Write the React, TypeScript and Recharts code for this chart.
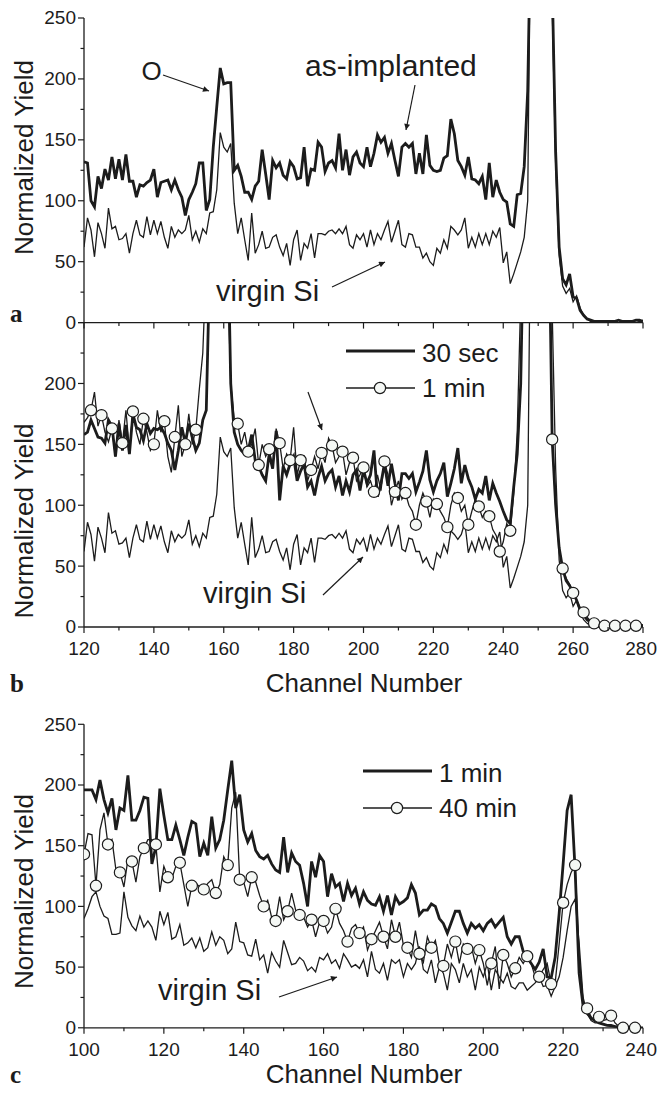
import React from 'react';
import { LineChart, Line, XAxis, YAxis, Label, Legend } from 'recharts';

const FONT = '"Liberation Sans", Arial, Helvetica, sans-serif';
const SERIF = '"Liberation Serif", "Times New Roman", serif';
const INK = '#1c1c1c';
const MARK_FILL = '#f5f8f5';

// channels (x categories)
const channelsAB = Array.from({ length: 161 }, (_, i) => 120 + i);
const channelsC = Array.from({ length: 141 }, (_, i) => 100 + i);

// panels a and b, channel 120..280
const virginAB = [
  62, 86, 76, 54, 82, 73, 61, 94, 77, 79,
  68, 69, 73, 57, 73, 84, 72, 70, 87, 72,
  84, 73, 83, 70, 61, 79, 70, 76, 73, 76,
  88, 68, 75, 66, 77, 73, 90, 91, 109, 156,
  144, 140, 147, 98, 73, 86, 68, 51, 90, 57,
  64, 75, 61, 62, 70, 72, 62, 55, 65, 47,
  68, 76, 51, 65, 61, 73, 53, 73, 73, 72,
  75, 76, 73, 77, 73, 79, 64, 61, 72, 68,
  73, 62, 76, 64, 73, 68, 76, 83, 66, 75,
  84, 64, 62, 73, 72, 62, 62, 53, 57, 50,
  47, 61, 57, 68, 61, 79, 76, 72, 76, 86,
  61, 70, 62, 73, 64, 73, 64, 75, 70, 78,
  49, 58, 32, 40, 49, 58, 70, 100, 400, 700,
  800, 700, 500, 400, 260, 130, 55, 30, 24, 28,
  17, 22, 12, 6, 3, 1, 1, 0, 1, 0,
  0, 1, 0, 0, 1, 0, 0, 1, 0, 1, 2,
];

const asImplanted = [
  132, 131, 100, 95, 120, 110, 126, 117, 136, 118,
  134, 117, 138, 116, 116, 103, 113, 112, 115, 117,
  126, 103, 115, 116, 117, 109, 117, 109, 103, 88,
  101, 107, 114, 131, 131, 92, 101, 144, 177, 209,
  196, 197, 197, 125, 129, 120, 107, 107, 101, 112,
  116, 142, 122, 101, 133, 127, 131, 121, 118, 132,
  128, 118, 119, 144, 112, 126, 125, 148, 144, 124,
  131, 133, 127, 155, 125, 142, 121, 136, 140, 131,
  128, 144, 128, 139, 154, 148, 152, 139, 147, 133,
  120, 144, 147, 144, 147, 122, 139, 122, 154, 129,
  125, 124, 125, 135, 137, 167, 155, 133, 128, 121,
  136, 118, 117, 114, 120, 101, 131, 103, 117, 107,
  101, 99, 81, 79, 105, 106, 128, 190, 350, 600,
  800, 800, 650, 500, 280, 140, 62, 36, 31, 40,
  21, 20, 10, 6, 3, 2, 1, 1, 1, 1,
  1, 1, 1, 2, 1, 1, 1, 1, 2, 2, 1,
];

const sec30 = [
  158, 160, 170, 163, 156, 155, 151, 170, 165, 140,
  167, 145, 166, 142, 175, 164, 162, 153, 167, 159,
  163, 162, 164, 159, 151, 145, 129, 145, 164, 151,
  167, 156, 145, 151, 170, 178, 300, 600, 750, 750,
  600, 350, 200, 160, 150, 145, 142, 145, 158, 137,
  132, 125, 120, 142, 130, 161, 104, 132, 125, 134,
  140, 120, 128, 134, 115, 120, 108, 123, 132, 120,
  126, 129, 115, 124, 108, 120, 111, 125, 129, 112,
  129, 118, 125, 145, 107, 118, 134, 116, 134, 118,
  104, 126, 126, 122, 126, 111, 119, 128, 145, 121,
  111, 120, 126, 135, 107, 118, 130, 147, 118, 133,
  122, 115, 105, 113, 110, 124, 104, 118, 110, 103,
  95, 88, 85, 115, 142, 200, 350, 600, 800, 850,
  850, 750, 550, 350, 154, 100, 65, 48, 38, 34,
  28, 22, 14, 10, 6, 4, 3, 2, 1, 1,
  1, 1, 1, 1, 1, 1, 1, 1, 1, 1, 1,
];

const min1B = [
  168, 172, 178, 193, 165, 174, 160, 152, 163, 140,
  170, 151, 178, 145, 177, 160, 150, 171, 160, 145,
  150, 178, 160, 169, 140, 127, 156, 182, 140, 150,
  175, 150, 162, 195, 225, 300, 500, 700, 800, 700,
  500, 300, 200, 170, 167, 150, 160, 144, 150, 163,
  133, 150, 140, 146, 130, 163, 151, 130, 142, 137,
  164, 125, 137, 140, 120, 129, 140, 130, 143, 135,
  155, 149, 135, 140, 144, 125, 135, 139, 120, 125,
  131, 115, 120, 111, 125, 112, 136, 125, 100, 111,
  120, 105, 110, 100, 95, 84, 100, 110, 103, 90,
  105, 101, 95, 90, 82, 100, 110, 106, 95, 100,
  84, 95, 105, 99, 90, 95, 91, 80, 75, 62,
  70, 85, 79, 110, 160, 270, 450, 650, 800, 850,
  850, 750, 550, 350, 154, 100, 65, 48, 40, 35,
  28, 22, 16, 12, 8, 5, 3, 2, 1, 1,
  1, 1, 1, 1, 1, 1, 1, 1, 1, 1, 1,
];

// panel c, channel 100..240
const min1C = [
  196, 196, 196, 188, 204, 188, 177, 189, 163, 181,
  179, 208, 171, 171, 179, 190, 189, 135, 149, 197,
  175, 155, 155, 167, 155, 142, 157, 170, 168, 141,
  152, 142, 174, 148, 155, 171, 196, 220, 181, 192,
  163, 153, 160, 146, 141, 139, 142, 135, 130, 128,
  157, 128, 144, 137, 134, 119, 100, 137, 124, 142,
  137, 108, 127, 116, 119, 104, 119, 109, 115, 102,
  112, 105, 102, 101, 108, 96, 109, 93, 108, 102,
  104, 107, 118, 111, 93, 97, 97, 102, 100, 90,
  86, 78, 87, 96, 96, 86, 78, 86, 82, 85,
  80, 86, 89, 83, 87, 91, 75, 69, 75, 75,
  63, 58, 53, 48, 54, 65, 42, 41, 58, 94,
  135, 179, 192, 130, 45, 18, 12, 8, 6, 4,
  3, 2, 2, 1, 1, 0, 0, 0, 0, 0, 0,
];

const min40C = [
  143, 160, 159, 117, 163, 177, 151, 155, 130, 128,
  116, 139, 137, 120, 141, 148, 155, 155, 151, 112,
  133, 124, 123, 133, 136, 118, 100, 117, 119, 116,
  114, 119, 122, 111, 118, 141, 134, 181, 194, 122,
  120, 108, 124, 120, 109, 100, 105, 91, 88, 108,
  89, 96, 111, 97, 93, 91, 83, 89, 75, 87,
  88, 78, 83, 98, 86, 80, 71, 82, 85, 78,
  83, 64, 73, 80, 87, 75, 65, 89, 75, 87,
  68, 66, 58, 80, 61, 54, 75, 66, 72, 53,
  51, 69, 58, 71, 53, 69, 65, 67, 53, 64,
  53, 35, 53, 67, 32, 60, 53, 42, 49, 58,
  53, 59, 53, 42, 42, 48, 53, 36, 37, 69,
  103, 118, 128, 134, 60, 22, 16, 9, 5, 9,
  6, 7, 10, 4, 1, 0, 0, 0, 0, 0, 0,
];

const virginC = [
  90, 98, 108, 112, 100, 92, 90, 77, 77, 78,
  112, 91, 84, 80, 92, 83, 88, 83, 72, 96,
  85, 95, 73, 75, 85, 68, 70, 74, 66, 74,
  63, 66, 79, 68, 75, 72, 61, 65, 87, 71,
  70, 60, 59, 73, 56, 60, 45, 62, 55, 50,
  72, 62, 52, 53, 58, 55, 47, 50, 46, 58,
  56, 61, 53, 56, 49, 61, 56, 50, 52, 49,
  56, 42, 63, 48, 45, 53, 39, 56, 53, 56,
  42, 53, 48, 53, 67, 48, 45, 56, 37, 50,
  45, 31, 53, 48, 37, 53, 42, 48, 31, 50,
  42, 53, 31, 48, 42, 37, 45, 34, 32, 37,
  37, 31, 34, 37, 42, 34, 35, 26, 34, 42,
  58, 80, 100, 106, 70, 25, 12, 6, 4, 4,
  3, 2, 1, 1, 0, 0, 0, 0, 0, 0, 0,
];

// ticks
const yTicks = [0, 25, 50, 75, 100, 125, 150, 175, 200, 225, 250];
const xTicksAB = [120, 130, 140, 150, 160, 170, 180, 190, 200, 210, 220, 230, 240, 250, 260, 270, 280];
const xTicksC = [100, 110, 120, 130, 140, 150, 160, 170, 180, 190, 200, 210, 220, 230, 240];
const yLabelsA = [0, 50, 100, 150, 200, 250];
const yLabelsB = [0, 50, 100, 150, 200];

const rowsAB = channelsAB.map((ch, i) => ({
  ch,
  virgin: virginAB[i],
  asImpl: asImplanted[i],
  sec30: sec30[i],
  min1: min1B[i],
}));
const rowsC = channelsC.map((ch, i) => ({
  ch,
  virgin: virginC[i],
  min1: min1C[i],
  min40: min40C[i],
}));

// symbols are drawn on every third channel (as in the original plot)
const marksB = rowsAB
  .filter((r) => (r.ch - 122) % 3 === 0 && r.min1 <= 250)
  .map((r) => ({ ch: r.ch, v: r.min1 }));
const marksC = rowsC
  .filter((r) => (r.ch - 100) % 3 === 0 && r.min40 <= 250)
  .map((r) => ({ ch: r.ch, v: r.min40 }));

const axisLine = { stroke: INK, strokeWidth: 1.3 };
const MAJOR = 6;
const MINOR = 3.5;
const TICK_FONT = 19;

// last label sits at the right frame, keep it inside the picture
const bottomTick = (step: number, labels: boolean, last: number) => (p: any) => {
  const v = p.payload.value;
  const major = v % step === 0;
  const atEnd = v === last;
  return (
    <g>
      <line x1={p.x} x2={p.x} y1={p.y} y2={p.y + (major ? MAJOR : MINOR)} stroke={INK} strokeWidth={1.2} />
      {labels && major ? (
        <text x={atEnd ? p.x + 14 : p.x} y={p.y + 28} textAnchor={atEnd ? 'end' : 'middle'}
          fontFamily={FONT} fontSize={TICK_FONT} fill={INK}>
          {v}
        </text>
      ) : null}
    </g>
  );
};

const topTick = (step: number) => (p: any) => {
  const major = p.payload.value % step === 0;
  return <line x1={p.x} x2={p.x} y1={p.y} y2={p.y - (major ? MAJOR : MINOR)} stroke={INK} strokeWidth={1.2} />;
};

const leftTick = (labels: number[]) => (p: any) => {
  const v = p.payload.value;
  const major = v % 50 === 0;
  return (
    <g>
      <line x1={p.x} x2={p.x - (major ? MAJOR : MINOR)} y1={p.y} y2={p.y} stroke={INK} strokeWidth={1.2} />
      {labels.includes(v) ? (
        <text x={p.x - 8} y={p.y} dy="0.34em" textAnchor="end" fontFamily={FONT} fontSize={TICK_FONT} fill={INK}>
          {v}
        </text>
      ) : null}
    </g>
  );
};

const rightTick = (p: any) => {
  const major = p.payload.value % 50 === 0;
  return <line x1={p.x} x2={p.x - (major ? MAJOR : MINOR)} y1={p.y} y2={p.y} stroke={INK} strokeWidth={1.2} />;
};

const yTitle = (cy: number) => () => (
  <text x={33} y={cy} transform={`rotate(-90, 33, ${cy})`} textAnchor="middle" fontFamily={FONT} fontSize={26} fill={INK}>
    Normalized Yield
  </text>
);

const xTitle = (baseline: number) => () => (
  <text x={364} y={baseline} textAnchor="middle" fontFamily={FONT} fontSize={26} fill={INK}>
    Channel Number
  </text>
);

const markerDot = (p: any) => (
  <circle key={`m-${p.index}`} cx={p.cx} cy={p.cy} r={5.6} fill={MARK_FILL} stroke={INK} strokeWidth={1.2} />
);

const legendBox = (first: string, second: string) => () => (
  <svg width={200} height={80}>
    <line x1={6} x2={75} y1={21} y2={21} stroke={INK} strokeWidth={3} />
    <text x={82} y={32} fontFamily={FONT} fontSize={26} fill={INK}>
      {first}
    </text>
    <line x1={6} x2={75} y1={58} y2={58} stroke={INK} strokeWidth={1.3} />
    <circle cx={40} cy={58} r={5.6} fill={MARK_FILL} stroke={INK} strokeWidth={1.2} />
    <text x={82} y={67} fontFamily={FONT} fontSize={26} fill={INK}>
      {second}
    </text>
  </svg>
);

const THICK = 2.8;
const THIN = 1.3;

export default function App() {
  return (
    <div style={{ position: 'absolute', left: 0, top: 0, width: 658, height: 1096, background: '#fff', overflow: 'hidden' }}>
      {/* panel a */}
      <div style={{ position: 'absolute', left: 0, top: 0 }}>
        <LineChart width={658} height={340} data={rowsAB} margin={{ top: 18, right: 15, bottom: 0, left: 0 }}>
          <XAxis xAxisId="b" dataKey="ch" type="number" domain={[120, 280]} allowDataOverflow ticks={xTicksAB} interval={0}
            height={17.4} tickSize={0} tickMargin={0} tickLine={false} axisLine={axisLine} tick={bottomTick(20, false, 280)} />
          <XAxis xAxisId="t" orientation="top" type="number" domain={[120, 280]} allowDataOverflow ticks={xTicksAB} interval={0}
            height={0} tickSize={0} tickMargin={0} tickLine={false} axisLine={axisLine} tick={topTick(20)} />
          <YAxis yAxisId="l" type="number" domain={[0, 250]} allowDataOverflow ticks={yTicks} interval={0} width={84}
            tickSize={0} tickMargin={0} tickLine={false} axisLine={axisLine} tick={leftTick(yLabelsA)}>
            <Label content={yTitle(157.5)} />
          </YAxis>
          <YAxis yAxisId="r" orientation="right" type="number" domain={[0, 250]} allowDataOverflow ticks={yTicks} interval={0}
            width={0} tickSize={0} tickMargin={0} tickLine={false} axisLine={axisLine} tick={rightTick} />
          <Line xAxisId="b" yAxisId="l" dataKey="virgin" stroke={INK} strokeWidth={THIN} dot={false} activeDot={false} isAnimationActive={false} />
          <Line xAxisId="b" yAxisId="l" dataKey="asImpl" stroke={INK} strokeWidth={THICK} dot={false} activeDot={false} isAnimationActive={false} />
        </LineChart>
      </div>

      {/* panel b */}
      <div style={{ position: 'absolute', left: 0, top: 300 }}>
        <LineChart width={658} height={400} data={rowsAB} margin={{ top: 22.6, right: 15, bottom: 0, left: 0 }}>
          <XAxis xAxisId="b" dataKey="ch" type="number" domain={[120, 280]} allowDataOverflow ticks={xTicksAB} interval={0}
            height={73} tickSize={0} tickMargin={0} tickLine={false} axisLine={axisLine} tick={bottomTick(20, true, 280)}>
            <Label content={xTitle(392)} />
          </XAxis>
          <XAxis xAxisId="t" orientation="top" type="number" domain={[120, 280]} allowDataOverflow ticks={xTicksAB} interval={0}
            height={0} tickSize={0} tickMargin={0} tickLine={false} axisLine={axisLine} tick={topTick(20)} />
          <YAxis yAxisId="l" type="number" domain={[0, 250]} allowDataOverflow ticks={yTicks} interval={0} width={84}
            tickSize={0} tickMargin={0} tickLine={false} axisLine={axisLine} tick={leftTick(yLabelsB)}>
            <Label content={yTitle(221)} />
          </YAxis>
          <YAxis yAxisId="r" orientation="right" type="number" domain={[0, 250]} allowDataOverflow ticks={yTicks} interval={0}
            width={0} tickSize={0} tickMargin={0} tickLine={false} axisLine={axisLine} tick={rightTick} />
          <YAxis yAxisId="m" hide type="number" domain={[0, 250]} />
          <Legend layout="vertical" align="center" verticalAlign="middle" content={legendBox('30 sec', '1 min')}
            wrapperStyle={{ left: 340, top: 30, width: 200, height: 80 }} />
          <Line xAxisId="b" yAxisId="l" dataKey="virgin" stroke={INK} strokeWidth={THIN} dot={false} activeDot={false} isAnimationActive={false} />
          <Line xAxisId="b" yAxisId="l" dataKey="sec30" stroke={INK} strokeWidth={THICK} dot={false} activeDot={false} isAnimationActive={false} />
          <Line xAxisId="b" yAxisId="l" dataKey="min1" stroke={INK} strokeWidth={THIN} dot={false} activeDot={false} isAnimationActive={false} />
          <Line data={marksB} xAxisId="b" yAxisId="m" dataKey="v" stroke="none" dot={markerDot} activeDot={false} isAnimationActive={false} legendType="none" />
        </LineChart>
      </div>

      {/* panel c */}
      <div style={{ position: 'absolute', left: 0, top: 700 }}>
        <LineChart width={658} height={396} data={rowsC} margin={{ top: 24.3, right: 15, bottom: 0, left: 0 }}>
          <XAxis xAxisId="b" dataKey="ch" type="number" domain={[100, 240]} allowDataOverflow ticks={xTicksC} interval={0}
            height={68.2} tickSize={0} tickMargin={0} tickLine={false} axisLine={axisLine} tick={bottomTick(20, true, 240)}>
            <Label content={xTitle(383)} />
          </XAxis>
          <XAxis xAxisId="t" orientation="top" type="number" domain={[100, 240]} allowDataOverflow ticks={xTicksC} interval={0}
            height={0} tickSize={0} tickMargin={0} tickLine={false} axisLine={axisLine} tick={topTick(20)} />
          <YAxis yAxisId="l" type="number" domain={[0, 250]} allowDataOverflow ticks={yTicks} interval={0} width={84}
            tickSize={0} tickMargin={0} tickLine={false} axisLine={axisLine} tick={leftTick(yLabelsA)}>
            <Label content={yTitle(191.5)} />
          </YAxis>
          <YAxis yAxisId="r" orientation="right" type="number" domain={[0, 250]} allowDataOverflow ticks={yTicks} interval={0}
            width={0} tickSize={0} tickMargin={0} tickLine={false} axisLine={axisLine} tick={rightTick} />
          <YAxis yAxisId="m" hide type="number" domain={[0, 250]} />
          <Legend layout="vertical" align="center" verticalAlign="middle" content={legendBox('1 min', '40 min')}
            wrapperStyle={{ left: 357, top: 50, width: 200, height: 80 }} />
          <Line xAxisId="b" yAxisId="l" dataKey="virgin" stroke={INK} strokeWidth={THIN} dot={false} activeDot={false} isAnimationActive={false} />
          <Line xAxisId="b" yAxisId="l" dataKey="min1" stroke={INK} strokeWidth={THICK} dot={false} activeDot={false} isAnimationActive={false} />
          <Line xAxisId="b" yAxisId="l" dataKey="min40" stroke={INK} strokeWidth={THIN} dot={false} activeDot={false} isAnimationActive={false} />
          <Line data={marksC} xAxisId="b" yAxisId="m" dataKey="v" stroke="none" dot={markerDot} activeDot={false} isAnimationActive={false} legendType="none" />
        </LineChart>
      </div>

      {/* annotations */}
      <svg width={658} height={1096} style={{ position: 'absolute', left: 0, top: 0, pointerEvents: 'none' }}>
        <defs>
          <marker id="arrow" viewBox="0 0 10 10" refX="10" refY="5" markerWidth="9" markerHeight="6"
            markerUnits="userSpaceOnUse" orient="auto">
            <path d="M0,0 L10,5 L0,10 z" fill={INK} />
          </marker>
        </defs>
        <g fontFamily={FONT} fill={INK}>
          <text x={151.5} y={80} fontSize={26} textAnchor="middle">O</text>
          <text x={305} y={76} fontSize={30}>as-implanted</text>
          <text x={216} y={301} fontSize={29}>virgin Si</text>
          <text x={203} y={603} fontSize={29}>virgin Si</text>
          <text x={158} y={1000} fontSize={29}>virgin Si</text>
        </g>
        <g stroke={INK} strokeWidth={1.2} markerEnd="url(#arrow)">
          <line x1={163} y1={75} x2={209} y2={91} />
          <line x1={415} y1={85} x2={406} y2={130} />
          <line x1={332} y1={287} x2={385} y2={262} />
          <line x1={308} y1={392} x2={322} y2={430} />
          <line x1={323} y1={595} x2={363} y2={557} />
          <line x1={279} y1={997} x2={337} y2={977} />
        </g>
        <g fontFamily={SERIF} fontWeight="bold" fontSize={25} fill={INK}>
          <text x={10} y={322}>a</text>
          <text x={10} y={692}>b</text>
          <text x={10} y={1083}>c</text>
        </g>
      </svg>
    </div>
  );
}
